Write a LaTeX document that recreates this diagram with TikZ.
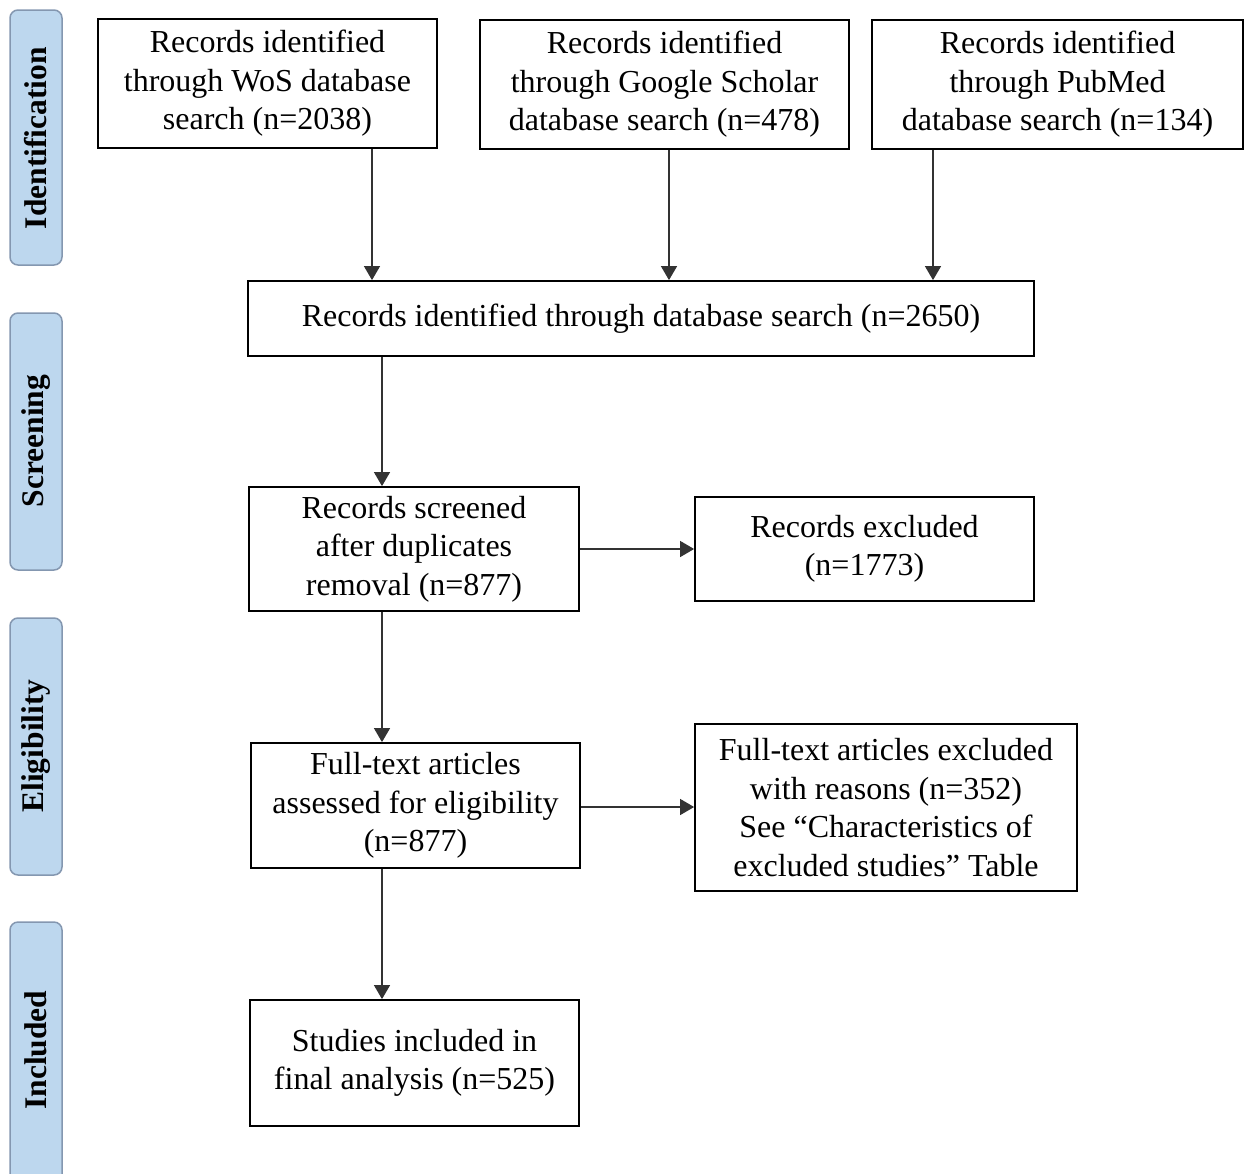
\documentclass[tikz,border=0pt]{standalone}
\usepackage{fontspec}
\setmainfont{Liberation Serif}
\usetikzlibrary{arrows.meta}
\definecolor{bandfill}{HTML}{BDD7EE}
\definecolor{bandline}{HTML}{8497B0}
\tikzset{
  box/.style={draw=black, line width=1.8pt, align=center, inner sep=0pt,
    font=\fontsize{32}{38.5}\selectfont},
  band/.style={draw=bandline, fill=bandfill, line width=1.5pt, rounded corners=8pt},
  bandlabel/.style={rotate=90, font=\fontsize{31.5}{34}\selectfont\bfseries, inner sep=0pt},
  arr/.style={draw=black!80, line width=1.3pt, -{Triangle[length=14pt,width=16pt]}}
}
\begin{document}
\begin{tikzpicture}[x=1pt,y=-1pt]
\useasboundingbox (0,0) rectangle (1245,1173);
\clip (0,0) rectangle (1245,1173);
% bands
\draw[band] (10,10) rectangle (62,265);
\draw[band] (10,313) rectangle (62,570);
\draw[band] (10,618) rectangle (62,875);
\draw[band] (10,922) rectangle (62,1195);
\node[bandlabel] (lid) at (36,138) {Identification};
\node[bandlabel] (lsc) at (36,441) {Screening};
\node[bandlabel] (lel) at (36,746) {Eligibility};
\node[bandlabel] (lin) at (36,1050) {Included};
% boxes
\node[box, minimum width=339pt, minimum height=129pt] (wos) at (267.5,83.5)
  {Records identified\\through WoS database\\search (n=2038)};
\node[box, minimum width=369pt, minimum height=129pt] (gs) at (664.5,84.5)
  {Records identified\\through Google Scholar\\database search (n=478)};
\node[box, minimum width=371pt, minimum height=129pt] (pm) at (1057.5,84.5)
  {Records identified\\through PubMed\\database search (n=134)};
\node[box, minimum width=786pt, minimum height=75pt] (all) at (641,318.5)
  {Records identified through database search (n=2650)};
\node[box, minimum width=330pt, minimum height=124pt] (scr) at (414,549)
  {Records screened\\after duplicates\\removal (n=877)};
\node[box, minimum width=339pt, minimum height=104pt] (exc) at (864.5,549)
  {Records excluded\\(n=1773)};
\node[box, minimum width=329pt, minimum height=125pt] (ft) at (415.5,805.5)
  {Full-text articles\\assessed for eligibility\\(n=877)};
\node[box, minimum width=382pt, minimum height=167pt] (ftx) at (886,807.5)
  {Full-text articles excluded\\with reasons (n=352)\\See “Characteristics of\\excluded studies” Table};
\node[box, minimum width=329pt, minimum height=126pt] (inc) at (414.5,1063)
  {Studies included in\\final analysis (n=525)};
% arrows
\draw[arr] (wos.south -| 372,0) -- (all.north -| 372,0);
\draw[arr] (gs.south -| 669,0) -- (all.north -| 669,0);
\draw[arr] (pm.south -| 933,0) -- (all.north -| 933,0);
\draw[arr] (all.south -| 382,0) -- (scr.north -| 382,0);
\draw[arr] (scr.east) -- (exc.west);
\draw[arr] (scr.south -| 382,0) -- (ft.north -| 382,0);
\draw[arr] (ft.east |- 0,807) -- (ftx.west |- 0,807);
\draw[arr] (ft.south -| 382,0) -- (inc.north -| 382,0);
\end{tikzpicture}
\end{document}
